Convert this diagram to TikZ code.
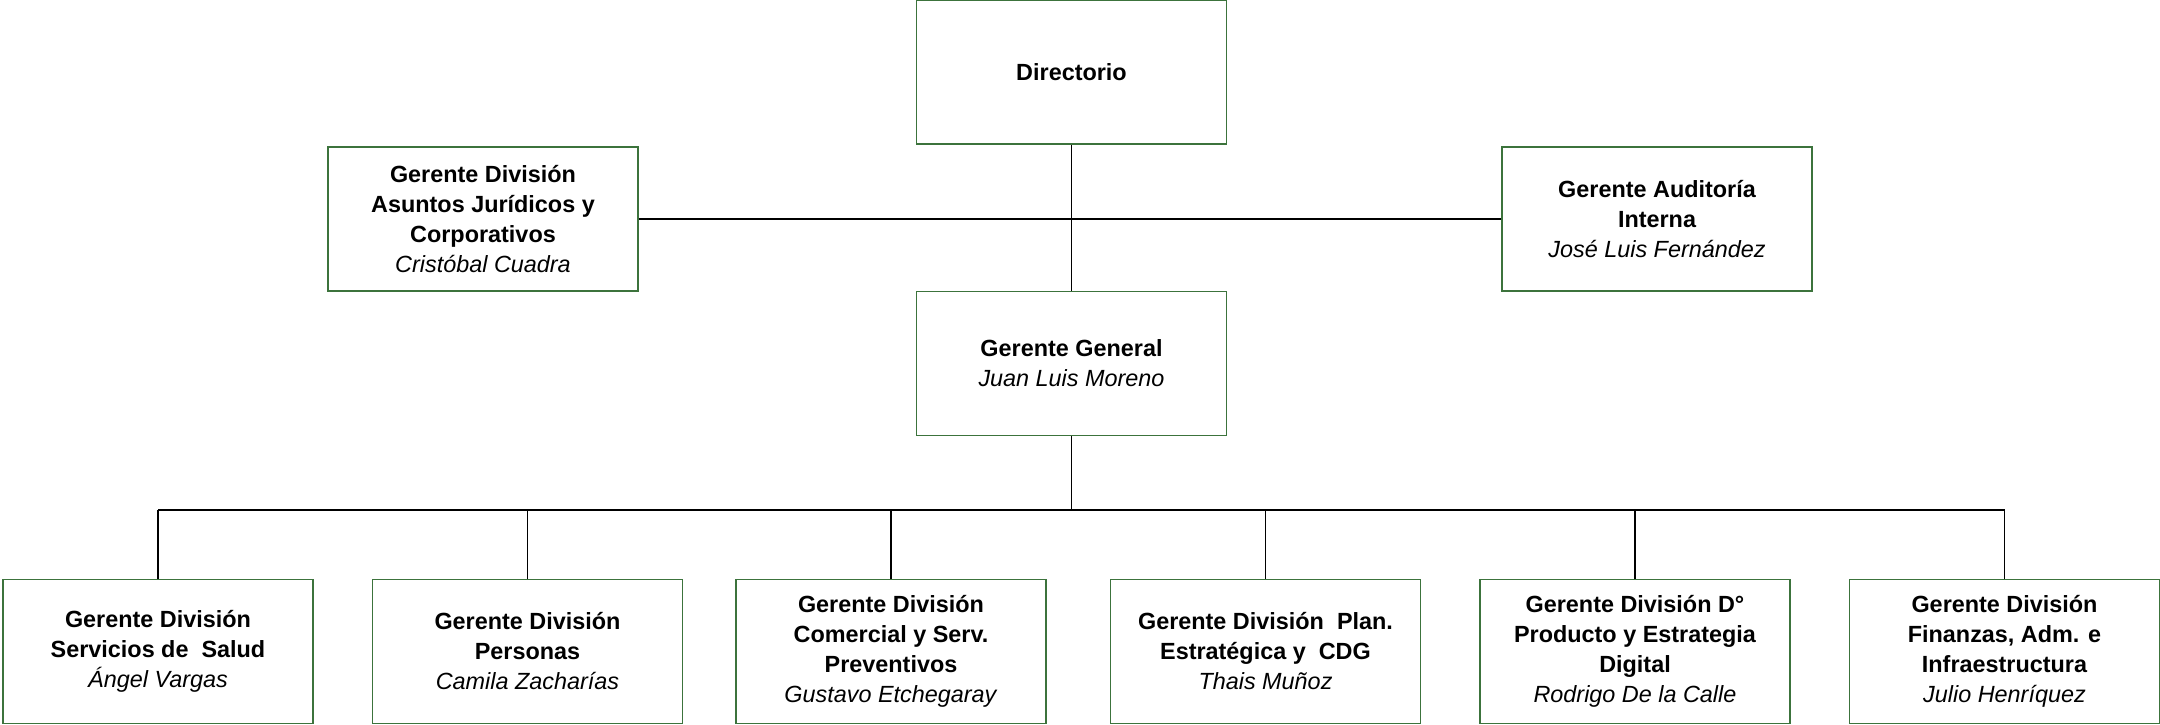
\documentclass[tikz,border=0pt]{standalone}
\usepackage{fontspec}
\setmainfont{Liberation Sans}
\definecolor{boxgreen}{RGB}{60,115,60}
\begin{document}
\begin{tikzpicture}[x=0.5pt,y=-0.5pt,
  orgbox/.style={draw=boxgreen, line width=0.7pt, fill=white, minimum width=155pt, minimum height=72pt, inner sep=0pt, align=center, font=\fontsize{11.7}{15}\selectfont\bfseries},
  conn/.style={draw=black, line width=0.9pt},
  bus/.style={draw=black, line width=1.4pt}]
\useasboundingbox (0,0) rectangle (2160,724);
\node[orgbox] (dir) at (1071.5,72) {Directorio};
\node[orgbox] (asu) at (483,219) {Gerente División\\Asuntos Jurídicos y\\Corporativos\\\textmd{\itshape Cristóbal Cuadra}};
\node[orgbox] (aud) at (1657,219) {Gerente Auditoría\\Interna\\\textmd{\itshape José Luis Fernández}};
\node[orgbox] (gg) at (1071.5,363.5) {Gerente General\\\textmd{\itshape Juan Luis Moreno}};
\node[orgbox] (b1) at (158,651.5) {Gerente División\\Servicios de\ \ Salud\\\textmd{\itshape Ángel Vargas}};
\node[orgbox] (b2) at (527.5,651.5) {Gerente División\\Personas\\\textmd{\itshape Camila Zacharías}};
\node[orgbox] (b3) at (891,651.5) {Gerente División\\Comercial y Serv.\\Preventivos\\\textmd{\itshape Gustavo Etchegaray}};
\node[orgbox] (b4) at (1265.5,651.5) {Gerente División\ \ Plan.\\Estratégica y\ \ CDG\\\textmd{\itshape Thais Muñoz}};
\node[orgbox] (b5) at (1635,651.5) {Gerente División D°\\Producto y Estrategia\\Digital\\\textmd{\itshape Rodrigo De la Calle}};
\node[orgbox] (b6) at (2004.5,651.5) {Gerente División\\Finanzas, Adm. e\\Infraestructura\\\textmd{\itshape Julio Henríquez}};
\coordinate (busy) at (0,510);
\draw[conn] (dir.south) -- (gg.north);
\draw[bus] (asu.east) -- (aud.west);
\draw[conn] (gg.south) -- (gg.south |- busy);
\draw[bus] (b1.north |- busy) -- (b6.north |- busy);
\foreach \i in {1,...,6} {\draw[conn] (b\i.north) -- (b\i.north |- busy);}
\end{tikzpicture}
\end{document}
